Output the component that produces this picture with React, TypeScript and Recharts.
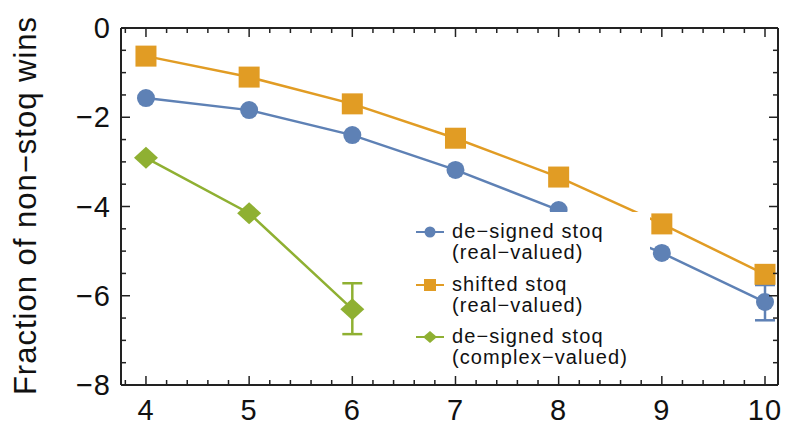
import React from "react";
import { LineChart, Line, XAxis, YAxis, ErrorBar, Legend } from "recharts";

// system sizes on the x axis
const sizes = [4, 5, 6, 7, 8, 9, 10];
const complexSizes = [4, 5, 6];

// log fraction of non-stoq wins
const designedReal = [-1.57, -1.84, -2.4, -3.18, -4.08, -5.04, -6.14];
const designedRealErr = [null, null, null, null, null, null, [0.41, 0.38]];
const shiftedReal = [-0.63, -1.1, -1.7, -2.47, -3.34, -4.39, -5.52];
const designedComplex = [-2.91, -4.15, -6.3];
const designedComplexErr = [null, null, [0.56, 0.58]];

const xTickLabels = [4, 5, 6, 7, 8, 9, 10];
const yTickLabels = [0, -2, -4, -6, -8];
const xDomain: [number, number] = [3.758, 10.126];
const yDomain: [number, number] = [-8, 0];

const BLUE = "#5E81B5";
const ORANGE = "#E19C24";
const GREEN = "#8FB032";
const FRAME = "#222";
const FONT = "'Liberation Sans', Arial, sans-serif";

// minor tick grid (0.2 on x, 0.5 on y)
const steps = (from: number, to: number, step: number) => {
  const out: number[] = [];
  for (let v = from; v <= to + 1e-9; v += step) out.push(Math.round(v * 10) / 10);
  return out;
};
const xTicks = steps(3.8, 10, 0.2);
const yTicks = steps(-8, 0, 0.5);

const isMajor = (v: number, labels: number[]) => labels.some((l) => Math.abs(l - v) < 1e-6);
const fmt = (v: number) => (v < 0 ? "\u2212" + Math.abs(v) : String(v));

const blueData = sizes.map((x, i) => ({ x, y: designedReal[i], err: designedRealErr[i] }));
const orangeData = sizes.map((x, i) => ({ x, y: shiftedReal[i] }));
const greenData = complexSizes.map((x, i) => ({ x, y: designedComplex[i], err: designedComplexErr[i] }));

function BottomTick(props: any) {
  const { x, y, payload } = props;
  const major = isMajor(payload.value, xTickLabels);
  return (
    <g>
      <line x1={x} x2={x} y1={y} y2={y - (major ? 9 : 5)} stroke={FRAME} strokeWidth={1.5} />
      {major && (
        <text x={x} y={y + 35} textAnchor="middle" fontSize={29} letterSpacing={1} fontFamily={FONT} fill="#111">
          {fmt(payload.value)}
        </text>
      )}
    </g>
  );
}

function TopTick(props: any) {
  const { x, y, payload } = props;
  const major = isMajor(payload.value, xTickLabels);
  return <line x1={x} x2={x} y1={y} y2={y + (major ? 9 : 5)} stroke={FRAME} strokeWidth={1.5} />;
}

function LeftTick(props: any) {
  const { x, y, payload } = props;
  const major = isMajor(payload.value, yTickLabels);
  return (
    <g>
      <line x1={x} x2={x + (major ? 9 : 5)} y1={y} y2={y} stroke={FRAME} strokeWidth={1.5} />
      {major && (
        <text x={x - 10} y={y + 10} textAnchor="end" fontSize={29} letterSpacing={1} fontFamily={FONT} fill="#111">
          {fmt(payload.value)}
        </text>
      )}
    </g>
  );
}

function RightTick(props: any) {
  const { x, y, payload } = props;
  const major = isMajor(payload.value, yTickLabels);
  return <line x1={x} x2={x - (major ? 9 : 5)} y1={y} y2={y} stroke={FRAME} strokeWidth={1.5} />;
}

function YTitle(props: any) {
  const { viewBox } = props;
  const cy = viewBox.y + viewBox.height / 2 - 1;
  return (
    <text
      x={36}
      y={cy}
      transform={`rotate(-90 36 ${cy})`}
      textAnchor="middle"
      fontSize={31}
      letterSpacing={1}
      fontFamily={FONT}
      fill="#111"
    >
      Fraction of non{"\u2212"}stoq wins
    </text>
  );
}

const circleDot = (p: any) => <circle key={p.index} cx={p.cx} cy={p.cy} r={9} fill={BLUE} />;
const squareDot = (p: any) => <rect key={p.index} x={p.cx - 10.5} y={p.cy - 10.5} width={21} height={21} fill={ORANGE} />;
const diamondDot = (p: any) => (
  <polygon
    key={p.index}
    points={`${p.cx - 12},${p.cy} ${p.cx},${p.cy - 11} ${p.cx + 12},${p.cy} ${p.cx},${p.cy + 11}`}
    fill={GREEN}
  />
);

const legendItems = [
  { color: BLUE, shape: "circle", lines: ["de\u2212signed stoq", "(real\u2212valued)"] },
  { color: ORANGE, shape: "square", lines: ["shifted stoq", "(real\u2212valued)"] },
  { color: GREEN, shape: "diamond", lines: ["de\u2212signed stoq", "(complex\u2212valued)"] },
];

function LegendIcon({ color, shape }: { color: string; shape: string }) {
  return (
    <svg width={28} height={20} style={{ display: "block" }}>
      <line x1={0} x2={28} y1={10} y2={10} stroke={color} strokeWidth={2} />
      {shape === "circle" && <circle cx={14} cy={10} r={5.5} fill={color} />}
      {shape === "square" && <rect x={8} y={4} width={12} height={12} fill={color} />}
      {shape === "diamond" && <polygon points="7,10 14,4 21,10 14,16" fill={color} />}
    </svg>
  );
}

function LegendBox() {
  return (
    <div
      style={{
        fontFamily: FONT,
        fontSize: 20,
        lineHeight: "21px",
        letterSpacing: "1.1px",
        color: "#111",
        paddingTop: 9,
      }}
    >
      {legendItems.map((it, i) => (
        <div key={i} style={{ position: "relative", height: 42, marginBottom: 10.5 }}>
          <div style={{ position: "absolute", left: 6, top: 1 }}>
            <LegendIcon color={it.color} shape={it.shape} />
          </div>
          <div style={{ position: "absolute", left: 42, top: 0, whiteSpace: "nowrap" }}>
            <div>{it.lines[0]}</div>
            <div>{it.lines[1]}</div>
          </div>
        </div>
      ))}
    </div>
  );
}

export default function App() {
  return (
    <div style={{ position: "absolute", left: 0, top: 0, width: 787, height: 427, background: "#fff" }}>
      <LineChart width={787} height={427} margin={{ top: 0, right: 0, bottom: 0, left: 0 }}>
        <XAxis
          xAxisId="b"
          type="number"
          dataKey="x"
          orientation="bottom"
          domain={xDomain}
          allowDataOverflow
          ticks={xTicks}
          interval={0}
          height={42}
          tickSize={0}
          tickMargin={0}
          tickLine={false}
          tick={<BottomTick />}
          axisLine={{ stroke: FRAME, strokeWidth: 2 }}
        />
        <XAxis
          xAxisId="t"
          type="number"
          dataKey="x"
          orientation="top"
          domain={xDomain}
          allowDataOverflow
          ticks={xTicks}
          interval={0}
          height={28}
          tickSize={0}
          tickMargin={0}
          tickLine={false}
          tick={<TopTick />}
          axisLine={{ stroke: FRAME, strokeWidth: 2 }}
        />
        <YAxis
          yAxisId="l"
          type="number"
          domain={yDomain}
          allowDataOverflow
          ticks={yTicks}
          interval={0}
          width={121}
          tickSize={0}
          tickMargin={0}
          tickLine={false}
          tick={<LeftTick />}
          axisLine={{ stroke: FRAME, strokeWidth: 2 }}
          label={<YTitle />}
        />
        <YAxis
          yAxisId="r"
          orientation="right"
          type="number"
          domain={yDomain}
          allowDataOverflow
          ticks={yTicks}
          interval={0}
          width={9}
          tickSize={0}
          tickMargin={0}
          tickLine={false}
          tick={<RightTick />}
          axisLine={{ stroke: FRAME, strokeWidth: 2 }}
        />
        <Line
          xAxisId="b"
          yAxisId="l"
          data={blueData}
          dataKey="y"
          stroke={BLUE}
          strokeWidth={2.5}
          dot={circleDot}
          activeDot={false}
          isAnimationActive={false}
        >
          <ErrorBar dataKey="err" direction="y" width={10} stroke={BLUE} strokeWidth={2.5} isAnimationActive={false} />
        </Line>
        <Line
          xAxisId="b"
          yAxisId="l"
          data={orangeData}
          dataKey="y"
          stroke={ORANGE}
          strokeWidth={2.5}
          dot={squareDot}
          activeDot={false}
          isAnimationActive={false}
        />
        <Line
          xAxisId="b"
          yAxisId="l"
          data={greenData}
          dataKey="y"
          stroke={GREEN}
          strokeWidth={2.5}
          dot={diamondDot}
          activeDot={false}
          isAnimationActive={false}
        >
          <ErrorBar dataKey="err" direction="y" width={10} stroke={GREEN} strokeWidth={2.5} isAnimationActive={false} />
        </Line>
        <Legend
          layout="vertical"
          align="center"
          verticalAlign="middle"
          content={<LegendBox />}
          wrapperStyle={{ left: 410, top: 212, width: 240, height: 160, background: "#fff", margin: 0 }}
        />
      </LineChart>
    </div>
  );
}
